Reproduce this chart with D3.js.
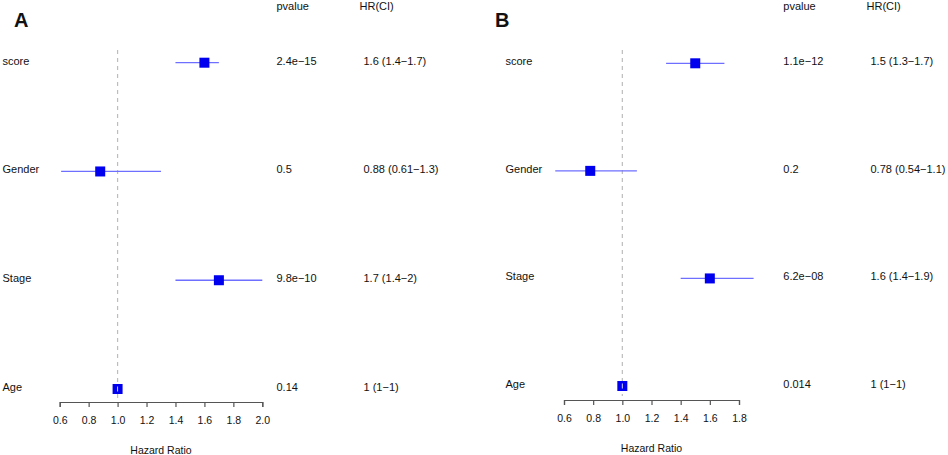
<!DOCTYPE html>
<html>
<head>
<meta charset="utf-8">
<script src="https://cdn.jsdelivr.net/npm/d3@7"></script>
<style>
  body { margin: 0; background: #fff; }
  text { font-family: "Liberation Sans", Arial, sans-serif; fill: #111; }
</style>
</head>
<body>
<div class="chart"></div>
<script>
const width = 948;
const height = 455;

// rows, top to bottom
const variables = ['score', 'Gender', 'Stage', 'Age'];

// panel A
const hrA = [1.6, 0.88, 1.7, 1.0];
const lowA = [1.4, 0.61, 1.4, 1.0];
const highA = [1.7, 1.3, 2.0, 1.0];
const pvalA = ['2.4e\u221215', '0.5', '9.8e\u221210', '0.14'];
const ciA = ['1.6 (1.4\u22121.7)', '0.88 (0.61\u22121.3)', '1.7 (1.4\u22122)', '1 (1\u22121)'];
const ticksA = [0.6, 0.8, 1.0, 1.2, 1.4, 1.6, 1.8, 2.0];

// panel B
const hrB = [1.5, 0.78, 1.6, 1.0];
const lowB = [1.3, 0.54, 1.4, 1.0];
const highB = [1.7, 1.1, 1.9, 1.0];
const pvalB = ['1.1e\u221212', '0.2', '6.2e\u221208', '0.014'];
const ciB = ['1.5 (1.3\u22121.7)', '0.78 (0.54\u22121.1)', '1.6 (1.4\u22121.9)', '1 (1\u22121)'];
const ticksB = [0.6, 0.8, 1.0, 1.2, 1.4, 1.6, 1.8];

const svg = d3.select('.chart')
  .append('svg')
    .attr('width', width)
    .attr('height', height);

function forest(cfg) {
  const g = svg.append('g');

  const rows = variables.map((v, i) => ({
    name: v, hr: cfg.hr[i], low: cfg.low[i], high: cfg.high[i], p: cfg.pval[i], ci: cfg.ci[i]
  }));

  const x = d3.scaleLinear()
    .domain([cfg.ticks[0], cfg.ticks[cfg.ticks.length - 1]])
    .range(cfg.xRange);

  const y = d3.scalePoint()
    .domain(variables)
    .range(cfg.yRange);

  // panel letter
  g.append('text')
    .attr('x', cfg.letterX)
    .attr('y', 27)
    .style('font-size', '20px')
    .style('font-weight', 'bold')
    .text(cfg.letter);

  // column headers
  g.append('text').attr('x', cfg.pX).attr('y', 10)
    .style('font-size', '11px').text('pvalue');
  g.append('text').attr('x', cfg.hrX - 4).attr('y', 10)
    .style('font-size', '11px').text('HR(CI)');

  // reference line at HR = 1
  g.append('line')
    .attr('x1', x(1)).attr('x2', x(1))
    .attr('y1', 50).attr('y2', cfg.axisY - 4)
    .attr('stroke', '#bdbdbd')
    .attr('stroke-width', 1.2)
    .attr('stroke-dasharray', '4,4');

  const row = g.selectAll('.row')
    .data(rows)
    .join('g')
      .attr('class', 'row');

  row.append('text')
    .attr('x', cfg.labelX)
    .attr('y', d => y(d.name) + 2)
    .style('font-size', '11px')
    .text(d => d.name);

  row.append('text')
    .attr('x', cfg.pX)
    .attr('y', d => y(d.name) + 2)
    .style('font-size', '11px')
    .text(d => d.p);

  row.append('text')
    .attr('x', cfg.hrX)
    .attr('y', d => y(d.name) + 2)
    .style('font-size', '11px')
    .text(d => d.ci);

  row.append('line')
    .attr('x1', d => x(d.low))
    .attr('x2', d => x(d.high))
    .attr('y1', d => y(d.name))
    .attr('y2', d => y(d.name))
    .attr('stroke', '#6f6fff')
    .attr('stroke-width', 1.3);

  row.append('rect')
    .attr('x', d => x(d.hr) - 5)
    .attr('y', d => y(d.name) - 5)
    .attr('width', 10)
    .attr('height', 10)
    .attr('fill', '#0000ee');

  // the zero-width interval shows as a light stroke through the box
  row.filter(d => d.low === d.high)
    .append('line')
    .attr('x1', d => x(d.hr)).attr('x2', d => x(d.hr))
    .attr('y1', d => y(d.name) - 2.5)
    .attr('y2', d => y(d.name) + 2.5)
    .attr('stroke', '#ccccff')
    .attr('stroke-width', 1);

  const axis = d3.axisBottom(x)
    .tickValues(cfg.ticks)
    .tickFormat(d3.format('.1f'))
    .tickSize(5)
    .tickPadding(10);

  const ax = g.append('g')
    .attr('transform', `translate(0, ${cfg.axisY})`)
    .call(axis);
  ax.select('.domain').attr('stroke', '#555').attr('stroke-width', 1.2);
  ax.selectAll('.tick line').attr('stroke', '#555').attr('stroke-width', 1.2);
  ax.selectAll('.tick text')
    .style('font-size', '10.5px')
    .style('font-family', '"Liberation Sans", Arial, sans-serif')
    .attr('fill', '#111');

  g.append('text')
    .attr('x', (cfg.xRange[0] + cfg.xRange[1]) / 2)
    .attr('y', cfg.axisY + 52)
    .attr('text-anchor', 'middle')
    .style('font-size', '10.5px')
    .text('Hazard Ratio');
}

forest({
  letter: 'A', letterX: 14,
  hr: hrA, low: lowA, high: highA, pval: pvalA, ci: ciA, ticks: ticksA,
  xRange: [59.7, 262.3], yRange: [62.7, 389], axisY: 402,
  labelX: 2.5, pX: 276.5, hrX: 363.5
});

forest({
  letter: 'B', letterX: 495,
  hr: hrB, low: lowB, high: highB, pval: pvalB, ci: ciB, ticks: ticksB,
  xRange: [564, 739], yRange: [63.3, 386], axisY: 400,
  labelX: 505.5, pX: 783.3, hrX: 870.5
});
</script>
</body>
</html>
